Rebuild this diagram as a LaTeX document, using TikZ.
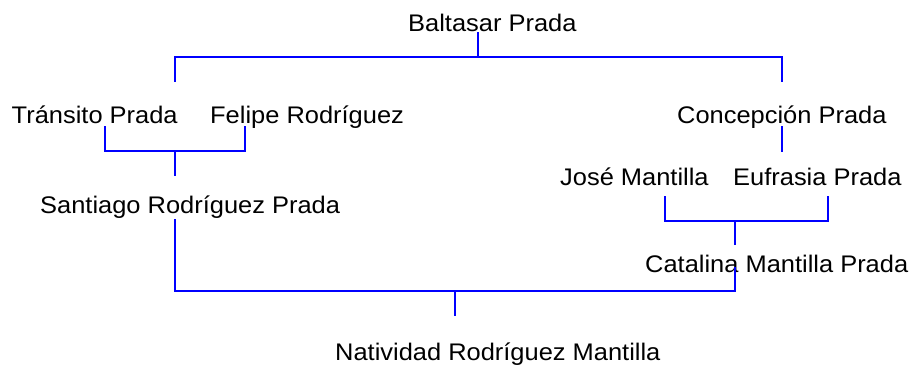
\documentclass[tikz,border=0pt]{standalone}
\usepackage{fontspec}
\setmainfont{Liberation Sans}[FakeStretch=1.06]
\begin{document}
\begin{tikzpicture}[x=1pt,y=-1pt,
  person/.style={anchor=base west,inner sep=0pt,font=\fontsize{24}{28}\selectfont,text=black},
  link/.style={draw={rgb,255:red,0;green,0;blue,255},line width=1.8pt,line cap=rect}]
\useasboundingbox (0,0) rectangle (915,365);
% persons
\node[person] (baltasar) at (408,31.7) {Baltasar Prada};
\node[person] (transito) at (11.5,123.3) {Tránsito Prada};
\node[person] (felipe) at (210,123.3) {Felipe Rodríguez};
\node[person] (concepcion) at (677,123.3) {Concepción Prada};
\node[person] (jose) at (560,185) {José Mantilla};
\node[person] (eufrasia) at (733,185) {Eufrasia Prada};
\node[person] (santiago) at (40,213.3) {Santiago Rodríguez Prada};
\node[person] (catalina) at (645,272.3) {Catalina Mantilla Prada};
\node[person] (natividad) at (335,360.5) {Natividad Rodríguez Mantilla};
% connector points
\coordinate (bT) at (478,33);
\coordinate (bH) at (478,57);
\coordinate (bL) at (175,57);
\coordinate (bR) at (782,57);
\coordinate (tTop) at (175,81);
\coordinate (cTop) at (782,81);
\coordinate (tB) at (105,127);
\coordinate (tBH) at (105,151);
\coordinate (fB) at (245,127);
\coordinate (fBH) at (245,151);
\coordinate (tfM) at (175,151);
\coordinate (sTop) at (175,175);
\coordinate (cB) at (782,127);
\coordinate (eTop) at (782,151);
\coordinate (jB) at (665,197);
\coordinate (jBH) at (665,221);
\coordinate (eB) at (828,197);
\coordinate (eBH) at (828,221);
\coordinate (jeM) at (735,221);
\coordinate (caTop) at (735,244);
\coordinate (sB) at (175,220);
\coordinate (sBH) at (175,291);
\coordinate (caB) at (735,268);
\coordinate (caBH) at (735,291);
\coordinate (scM) at (455,291);
\coordinate (nTop) at (455,315);
% connectors
\draw[link] (bT) -- (bH);
\draw[link] (tTop) -- (bL) -- (bR) -- (cTop);
\draw[link] (tB) -- (tBH) -- (fBH) -- (fB);
\draw[link] (tfM) -- (sTop);
\draw[link] (cB) -- (eTop);
\draw[link] (jB) -- (jBH) -- (eBH) -- (eB);
\draw[link] (jeM) -- (caTop);
\draw[link] (sB) -- (sBH) -- (caBH) -- (caB);
\draw[link] (scM) -- (nTop);
\end{tikzpicture}
\end{document}
